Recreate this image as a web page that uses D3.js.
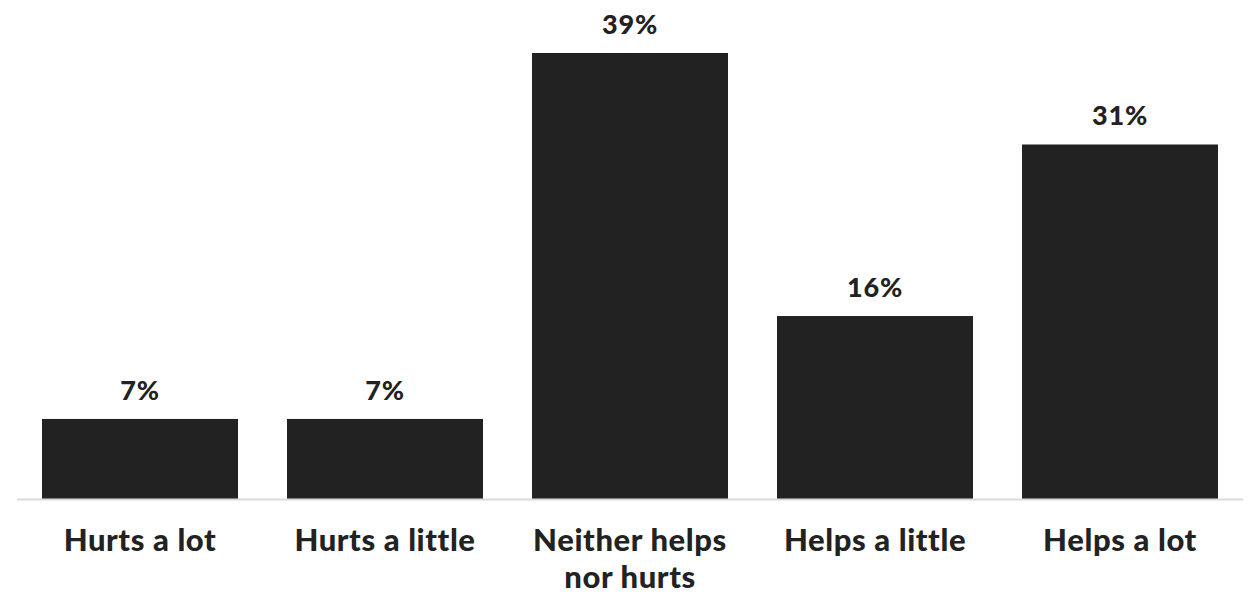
<!DOCTYPE html>
<html><head><meta charset="utf-8">
<script src="https://cdn.jsdelivr.net/npm/d3@7"></script>
<style>body{margin:0;background:#fff}svg{display:block}</style>
</head><body>
<svg id="c" width="1248" height="594"></svg>
<script>
const categories = ["Hurts a lot","Hurts a little","Neither helps|nor hurts","Helps a little","Helps a lot"];
const values = [7,7,39,16,31];
const valueLabels = ["7%","7%","39%","16%","31%"];

const svg = d3.select("#c");
const font = "Lato, 'Open Sans', sans-serif";
const x = d3.scaleBand().domain(categories).range([17.5,1242.5]).paddingInner(0.2).paddingOuter(0.1);
const y = d3.scaleLinear().domain([0,39]).range([499,53]);

svg.append("g").selectAll("rect").data(values).join("rect")
  .attr("x",(d,i)=>x(categories[i]))
  .attr("width",x.bandwidth())
  .attr("y",d=>y(d))
  .attr("height",d=>y(0)-y(d))
  .attr("fill","#222222");

svg.append("line").attr("x1",17).attr("x2",1243).attr("y1",y(0)+0.5).attr("y2",y(0)+0.5)
  .attr("stroke","#d9d9d9").attr("stroke-width",2);

svg.append("g").selectAll("text").data(values).join("text")
  .attr("x",(d,i)=>x(categories[i])+x.bandwidth()/2)
  .attr("y",d=>y(d)-19)
  .attr("text-anchor","middle")
  .attr("font-family",font).attr("font-weight",900).attr("font-size",27)
  .attr("letter-spacing",0.8)
  .attr("fill","#222").text((d,i)=>valueLabels[i]);

const cg = svg.append("g");
categories.forEach((c,i)=>{
  const t = cg.append("text").attr("x",x(c)+x.bandwidth()/2).attr("y",551)
    .attr("text-anchor","middle").attr("font-family",font).attr("font-weight",900)
    .attr("font-size",31).attr("letter-spacing",0.6).attr("fill","#222");
  c.split("|").forEach((line,j)=>{
    t.append("tspan").attr("x",x(c)+x.bandwidth()/2).attr("dy",j?37:0).text(line);
  });
});
</script>
</body></html>
